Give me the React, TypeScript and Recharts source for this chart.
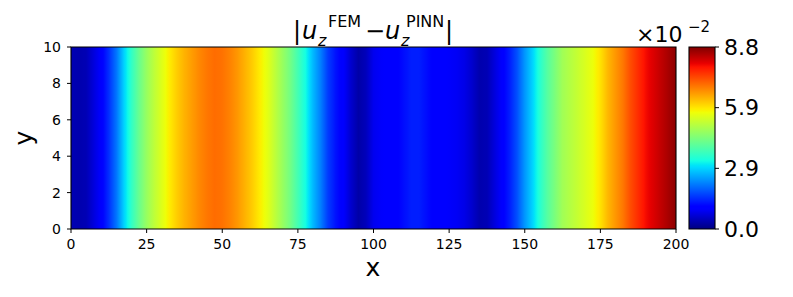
import React from 'react';
import { ComposedChart, XAxis, YAxis, ReferenceArea } from 'recharts';

// sample positions along x (the field is nearly uniform along y)
const xSamples = [
  0, 2.5, 5, 7.5, 10, 12.5, 15, 17.5, 20, 22.5, 25, 27.5, 30, 32.5, 35, 37.5, 40, 42.5, 45, 47.5,
  50, 52.5, 55, 57.5, 60, 62.5, 65, 67.5, 70, 72.5, 75, 77.5, 80, 82.5, 85, 87.5, 90, 92.5, 95, 97.5,
  100, 102.5, 105, 107.5, 110, 112.5, 115, 117.5, 120, 122.5, 125, 127.5, 130, 132.5, 135, 137.5, 140, 142.5, 145, 147.5,
  150, 152.5, 155, 157.5, 160, 162.5, 165, 167.5, 170, 172.5, 175, 177.5, 180, 182.5, 185, 187.5, 190, 192.5, 195, 197.5, 200,
];
// |u_z^FEM - u_z^PINN| in units of 1e-2
const errorValues = [
  0.4, 0.35, 0.4, 0.7, 1.0, 1.5, 2.1, 2.9, 3.6, 4.2, 4.7, 5.1, 5.45, 5.8, 6.1, 6.35, 6.55, 6.75, 6.9, 7.0,
  6.95, 6.8, 6.6, 6.35, 6.1, 5.8, 5.5, 5.1, 4.7, 4.3, 3.8, 3.3, 2.7, 2.2, 1.6, 1.25, 1.0, 0.6, 0.3, 0.45,
  0.85, 0.95, 1.0, 1.05, 1.2, 1.35, 1.35, 1.2, 1.05, 1.0, 0.95, 0.9, 0.8, 0.6, 0.35, 0.4, 0.7, 1.0, 1.35, 1.8,
  2.4, 2.9, 3.5, 4.0, 4.4, 4.8, 5.0, 5.2, 5.4, 5.6, 5.9, 6.3, 6.6, 6.9, 7.3, 7.6, 7.9, 8.1, 8.3, 8.5, 8.7,
];
const xTicks = [0, 25, 50, 75, 100, 125, 150, 175, 200];
const yTicks = [0, 2, 4, 6, 8, 10];
const colorbarTicks = [0, 2.933, 5.867, 8.8];
const vMin = 0;
const vMax = 8.8;
const xDomain: [number, number] = [0, 200];
const yDomain: [number, number] = [0, 10];

// matplotlib "jet" colormap segment data
const JET_R: [number, number][] = [[0, 0], [0.35, 0], [0.66, 1], [0.89, 1], [1, 0.5]];
const JET_G: [number, number][] = [[0, 0], [0.125, 0], [0.375, 1], [0.64, 1], [0.91, 0], [1, 0]];
const JET_B: [number, number][] = [[0, 0.5], [0.11, 1], [0.34, 1], [0.65, 0], [1, 0]];
const JET_STOPS = [0, 0.11, 0.125, 0.34, 0.35, 0.375, 0.64, 0.65, 0.66, 0.89, 0.91, 1];

function seg(pts: [number, number][], t: number) {
  for (let i = 1; i < pts.length; i++) {
    if (t <= pts[i][0]) {
      const [x0, y0] = pts[i - 1];
      const [x1, y1] = pts[i];
      return y0 + ((y1 - y0) * (t - x0)) / (x1 - x0 || 1);
    }
  }
  return pts[pts.length - 1][1];
}
function jet(t: number) {
  const c = Math.max(0, Math.min(1, t));
  const h = (v: number) => Math.round(v * 255).toString(16).padStart(2, '0');
  return '#' + h(seg(JET_R, c)) + h(seg(JET_G, c)) + h(seg(JET_B, c));
}
const norm = (v: number) => (v - vMin) / (vMax - vMin);

const profile = xSamples.map((x, i) => ({ x, v: errorValues[i] }));
const cells = profile.slice(0, -1).map((p, i) => ({ x1: p.x, x2: profile[i + 1].x, v1: p.v, v2: profile[i + 1].v }));

const FONT = 'DejaVu Sans';
const tickStyle = { fontSize: 14, fill: '#000', fontFamily: FONT };

export default function App() {
  return (
    <div style={{ position: 'absolute', left: 0, top: 0, width: 793, height: 297, background: '#fff' }}>
      <div style={{ position: 'absolute', left: 0, top: 0 }}>
        <ComposedChart width={793} height={297} data={profile} margin={{ top: 47, right: 117, bottom: 0, left: 0 }}>
          <defs>
            {cells.map((c, i) => {
              // sub-stops so the jet colour path is followed inside each cell
              const stops = [0, 0.25, 0.5, 0.75, 1];
              return (
                <linearGradient key={i} id={`cell${i}`} x1="0" y1="0" x2="1" y2="0">
                  {stops.map((s) => (
                    <stop key={s} offset={s} stopColor={jet(norm(c.v1 + (c.v2 - c.v1) * s))} />
                  ))}
                </linearGradient>
              );
            })}
          </defs>
          <XAxis
            type="number"
            dataKey="x"
            domain={xDomain}
            ticks={xTicks}
            interval={0}
            allowDataOverflow
            height={68}
            tick={tickStyle}
            tickLine={{ stroke: '#000', strokeWidth: 1 }}
            axisLine={false}
            tickSize={4}
            tickMargin={6}
          />
          <YAxis
            type="number"
            domain={yDomain}
            ticks={yTicks}
            interval={0}
            allowDataOverflow
            width={71}
            tick={tickStyle}
            tickLine={{ stroke: '#000', strokeWidth: 1 }}
            axisLine={false}
            tickSize={4}
            tickMargin={6}
          />
          {cells.map((c, i) => (
            <ReferenceArea
              key={i}
              x1={c.x1}
              x2={c.x2}
              y1={yDomain[0]}
              y2={yDomain[1]}
              fill={`url(#cell${i})`}
              fillOpacity={1}
              stroke="none"
              ifOverflow="visible"
              shapeRendering="crispEdges"
            />
          ))}
          <ReferenceArea
            x1={xDomain[0]}
            x2={xDomain[1]}
            y1={yDomain[0]}
            y2={yDomain[1]}
            fill="none"
            fillOpacity={0}
            stroke="#000"
            strokeWidth={1.1}
            ifOverflow="visible"
          />
        </ComposedChart>
      </div>
      <div style={{ position: 'absolute', left: 0, top: 0 }}>
        <ComposedChart width={793} height={297} data={[{ c: 0 }, { c: 1 }]} margin={{ top: 47, right: 0, bottom: 68, left: 689 }}>
          <defs>
            <linearGradient id="jetBar" x1="0" y1="1" x2="0" y2="0">
              {JET_STOPS.map((s) => (
                <stop key={s} offset={s} stopColor={jet(s)} />
              ))}
            </linearGradient>
          </defs>
          <XAxis type="number" dataKey="c" domain={[0, 1]} hide />
          <YAxis
            type="number"
            orientation="right"
            domain={[vMin, vMax]}
            ticks={colorbarTicks}
            interval={0}
            allowDataOverflow
            width={78}
            tick={{ fontSize: 22, fill: '#000', fontFamily: FONT }}
            tickFormatter={(v: number) => v.toFixed(1)}
            tickLine={{ stroke: '#000', strokeWidth: 1 }}
            axisLine={false}
            tickSize={4}
            tickMargin={5}
          />
          <ReferenceArea
            x1={0}
            x2={1}
            y1={vMin}
            y2={vMax}
            fill="url(#jetBar)"
            fillOpacity={1}
            stroke="#000"
            strokeWidth={1.1}
            ifOverflow="visible"
          />
        </ComposedChart>
      </div>
      <svg width={793} height={297} style={{ position: 'absolute', left: 0, top: 0, pointerEvents: 'none' }}>
        <g fontFamily={FONT} fill="#000">
          {/* title */}
          <text x={293} y={39} fontSize={24}>|</text>
          <text x={302} y={39} fontSize={24} fontStyle="italic">u</text>
          <text x={318} y={46} fontSize={16} fontStyle="italic">z</text>
          <text x={328} y={27} fontSize={16}>FEM</text>
          <text x={365} y={39} fontSize={24}>−</text>
          <text x={385} y={39} fontSize={24} fontStyle="italic">u</text>
          <text x={401} y={46} fontSize={16} fontStyle="italic">z</text>
          <text x={406} y={27} fontSize={16}>PINN</text>
          <text x={445} y={39} fontSize={24}>|</text>
          {/* colorbar offset */}
          <text x={636} y={42} fontSize={22}>×10</text>
          <text x={688} y={32} fontSize={15}>−2</text>
          {/* axis labels */}
          <text x={373} y={276} fontSize={25} textAnchor="middle">x</text>
          <text x={32} y={138} fontSize={25} textAnchor="middle" transform="rotate(-90, 32, 138)">y</text>
        </g>
      </svg>
    </div>
  );
}
